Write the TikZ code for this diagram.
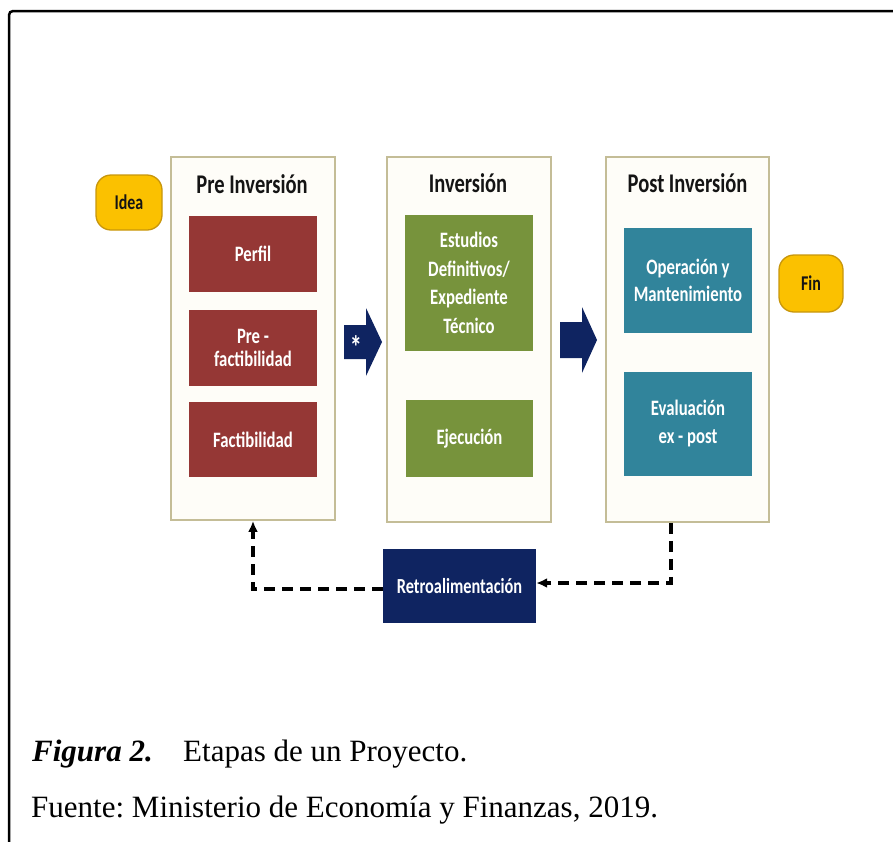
\documentclass[tikz,border=0pt]{standalone}
\usepackage{fontspec}
\setmainfont{Liberation Serif}
\newfontfamily\calr[FakeStretch=0.76]{Carlito}
\usetikzlibrary{arrows.meta}
\definecolor{tanline}{HTML}{C4BD97}
\definecolor{cream}{HTML}{FEFDF8}
\definecolor{gold}{HTML}{FBC100}
\definecolor{golddark}{HTML}{C8960C}
\definecolor{redbox}{HTML}{953735}
\definecolor{greenbox}{HTML}{77933C}
\definecolor{tealbox}{HTML}{31849B}
\definecolor{navybox}{HTML}{0F2461}
\definecolor{titlegray}{HTML}{141414}
\tikzset{
  stage/.style={draw=tanline, line width=1.8pt, fill=cream, inner sep=0pt},
  stagetitle/.style={anchor=base, inner sep=0pt, text=titlegray, font=\calr\bfseries\fontsize{27}{32}\selectfont},
  box/.style={inner sep=0pt, align=center, text=white, font=\calr\bfseries\fontsize{22}{27}\selectfont},
  terminal/.style={rounded corners=15pt, fill=gold, draw=golddark, line width=1.3pt, inner sep=0pt, text=titlegray, font=\calr\bfseries\fontsize{21}{24}\selectfont},
  blockarrow/.style={fill=navybox},
  fb/.style={draw=black, line width=3.8pt, dash pattern=on 11pt off 7pt, -{Latex[length=11pt,width=10pt]}},
  caption/.style={anchor=base west, inner sep=0pt, font=\fontsize{31}{36}\selectfont}
}
\begin{document}
\frenchspacing
\begin{tikzpicture}[x=1pt, y=-1pt]
\useasboundingbox (0,0) rectangle (893,841);
% outer frame
\draw[line width=2.5pt, rounded corners=4pt] (9,842) -- (9,11) -- (894,11);

% stage containers
\node[stage, minimum width=164, minimum height=363] (pre) at (253,338.5) {};
\node[stage, minimum width=164, minimum height=365] (inv) at (469,339.5) {};
\node[stage, minimum width=163, minimum height=365] (post) at (687.5,339.5) {};

\node[stagetitle] (preT) at (252,193) {Pre Inversión};
\node[stagetitle] (invT) at (468,192) {Inversión};
\node[stagetitle] (postT) at (687.5,192) {Post Inversión};

% terminals
\node[terminal, minimum width=66, minimum height=55] (idea) at (129,202.5) {Idea};
\node[terminal, minimum width=64, minimum height=57] (fin) at (811,283.5) {Fin};

% Pre Inversión boxes
\node[box, fill=redbox, minimum width=128, minimum height=76] (perfil) at (253,254) {Perfil};
\node[box, fill=redbox, minimum width=128, minimum height=76, font=\calr\bfseries\fontsize{22}{23}\selectfont] (prefact) at (253,348) {Pre -\\factibilidad};
\node[box, fill=redbox, minimum width=128, minimum height=75] (fact) at (253,439.5) {Factibilidad};

% Inversión boxes
\node[box, fill=greenbox, minimum width=128, minimum height=136, font=\calr\bfseries\fontsize{22}{28.5}\selectfont] (estudios) at (469,283) {Estudios\\Definitivos/\\Expediente\\Técnico};
\node[box, fill=greenbox, minimum width=127, minimum height=77] (ejec) at (469.5,438.5) {Ejecución};

% Post Inversión boxes
\node[box, fill=tealbox, minimum width=128, minimum height=105] (oper) at (688,280.5) {Operación y\\Mantenimiento};
\node[box, fill=tealbox, minimum width=128, minimum height=104, font=\calr\bfseries\fontsize{22}{28}\selectfont] (eval) at (688,424) {Evaluación\\ex - post};

% feedback box
\node[box, fill=navybox, minimum width=153, minimum height=74, font=\calr\bfseries\fontsize{21.5}{26}\selectfont] (retro) at (459.5,586) {Retroalimentación};

% block arrows between stages
\fill[blockarrow] (344,325) -- (366,325) -- (366,308) -- (382,342) -- (366,376) -- (366,359) -- (344,359) -- cycle;
\node[inner sep=0pt, text=white, font=\calr\bfseries\fontsize{32}{34}\selectfont] (star) at (356,347) {*};
\fill[blockarrow] (560,322) -- (582,322) -- (582,307) -- (597,340) -- (582,373) -- (582,358) -- (560,358) -- cycle;

% feedback connectors
\coordinate (fbL) at (253,589);
\coordinate (fbR) at (671,583);
\draw[fb] (retro.west |- fbL) -- (fbL) -- (fbL |- pre.south);
\draw[fb] (fbR |- post.south) -- (fbR) -- (retro.east |- fbR);

% caption
\node[caption, font=\bfseries\itshape\fontsize{31}{36}\selectfont] (figlab) at (32,761) {Figura 2.};
\node[caption] (figtxt) at (183,761) {Etapas de un Proyecto.};
\node[caption] (fuente) at (31,817) {Fuente: Ministerio de Economía y Finanzas, 2019.};
\end{tikzpicture}
\end{document}
